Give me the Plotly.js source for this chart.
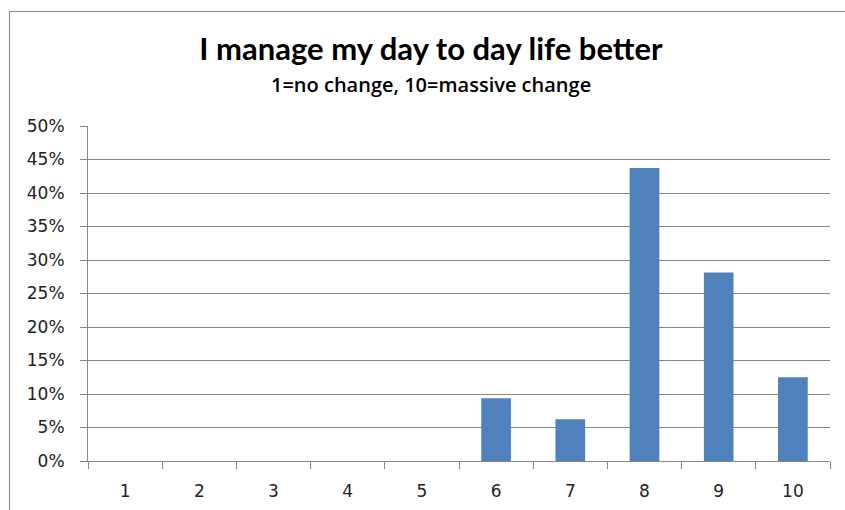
<!DOCTYPE html>
<html>
<head>
<meta charset="utf-8">
<script src="https://cdn.plot.ly/plotly-3.0.1.min.js"></script>
<style>
html,body{margin:0;padding:0;background:#fff;}
#chart{width:845px;height:510px;}
</style>
</head>
<body>
<div id="chart"></div>
<script>
const categories = ["1","2","3","4","5","6","7","8","9","10"];
const values = [0, 0, 0, 0, 0, 0.09375, 0.0625, 0.4375, 0.28125, 0.125];
const yTickVals = [0,0.05,0.1,0.15,0.2,0.25,0.3,0.35,0.4,0.45,0.5];
const titleText = "I manage my day to day life better";
const subtitleText = "1=no change, 10=massive change";

const L = 88, R = 830, T = 126, B = 461, W = 845, H = 510;
const pw = R - L, ph = B - T;
const cx = 431;

Plotly.newPlot('chart', [{
  type: 'bar',
  x: categories,
  y: values,
  marker: {color: '#4f81bd', line: {width: 0}},
  hoverinfo: 'x+y'
}], {
  width: W, height: H,
  margin: {l: L, r: W - R, t: T, b: H - B, pad: 0},
  paper_bgcolor: '#fff', plot_bgcolor: '#fff',
  bargap: 0.6,
  showlegend: false,
  font: {family: 'DejaVu Sans, sans-serif', size: 17, color: '#222'},
  title: {
    text: '<b>' + titleText + '</b>',
    font: {family: 'Lato, sans-serif', size: 31, color: '#000'},
    x: cx / W, xanchor: 'center', y: 1 - 49/H, yanchor: 'middle'
  },
  annotations: [{
    text: subtitleText,
    xref: 'paper', yref: 'paper',
    x: (cx - L) / pw, y: (B - 85) / ph,
    xanchor: 'center', yanchor: 'middle', showarrow: false,
    font: {family: 'Open Sans, sans-serif', size: 20, weight: 600, color: '#000'}
  }],
  xaxis: {
    type: 'category',
    tickson: 'boundaries',
    ticks: 'outside', ticklen: 7, tickcolor: '#868686', tickwidth: 1,
    showline: true, linecolor: '#868686', linewidth: 1,
    showgrid: false,
    ticklabelstandoff: 15,
    tickfont: {family: 'DejaVu Sans, sans-serif', size: 17, color: '#222'},
    fixedrange: true
  },
  yaxis: {
    range: [0, 0.5],
    tickvals: yTickVals,
    tickformat: '.0%',
    ticks: 'outside', ticklen: 7, tickcolor: '#868686', tickwidth: 1,
    showline: true, linecolor: '#868686', linewidth: 1,
    showgrid: true, gridcolor: '#868686', gridwidth: 1,
    zeroline: false,
    ticklabelstandoff: 12,
    tickfont: {family: 'DejaVu Sans, sans-serif', size: 17, color: '#222'},
    fixedrange: true
  },
  shapes: [{
    type: 'rect', xref: 'paper', yref: 'paper',
    x0: (9.5 - L) / pw, x1: (W + 10 - L) / pw,
    y0: (B - (H + 10)) / ph, y1: (B - 11.5) / ph,
    line: {color: '#868686', width: 1}, fillcolor: 'rgba(0,0,0,0)'
  }]
}, {displayModeBar: false, staticPlot: true});
</script>
</body>
</html>
